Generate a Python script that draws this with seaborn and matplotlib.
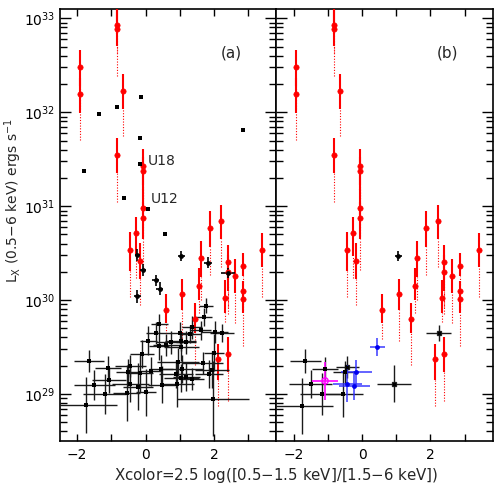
import numpy as np
import pandas as pd
import matplotlib
matplotlib.use("Agg")
import matplotlib.pyplot as plt
import seaborn as sns
from matplotlib.ticker import LogLocator, LogFormatterMathtext, FixedLocator, NullFormatter

# ---------------- data (log10 Lx) ----------------
# red sources (shown in both panels): x, logL, upper err, lower solid err, dotted lower extent (dex)
red_x = [-1.92, -1.92, -0.83, -0.83, -0.83, -0.65, -0.07, -0.07, -0.07, -0.07, -0.27, -0.45, -0.17,
         0.59, 1.08, 1.44, 1.55, 1.61, 1.88, 2.22, 2.13, 2.40, 2.41, 2.33, 2.40, 2.62, 2.86, 2.86, 2.86, 3.42]
red_y = [32.48, 32.19, 32.93, 32.89, 31.55, 32.23, 31.43, 31.37, 30.98, 30.87, 30.71, 30.53, 30.42,
         29.90, 30.06, 29.80, 30.15, 30.45, 30.77, 30.84, 29.37, 30.41, 30.30, 30.02, 29.43, 30.26, 30.36, 30.10, 30.01, 30.53]
red_up = [0.18, 0.17, 0.30, 0.30, 0.18, 0.18, 0.18, 0.15, 0.20, 0.18, 0.18, 0.20, 0.19,
          0.17, 0.16, 0.17, 0.19, 0.18, 0.18, 0.17, 0.16, 0.18, 0.18, 0.19, 0.18, 0.18, 0.14, 0.10, 0.10, 0.18]
red_lo = [0.20, 0.20, 0.10, 0.18, 0.20, 0.19, 0.20, 0.20, 0.12, 0.22, 0.24, 0.22, 0.20,
          0.14, 0.17, 0.15, 0.15, 0.20, 0.20, 0.19, 0.22, 0.20, 0.20, 0.16, 0.20, 0.18, 0.10, 0.10, 0.15, 0.18]
red_dot = [0.45, 0.49, 0.30, 0.50, 0.51, 0.48, 0.35, 0.35, 0.30, 0.55, 0.47, 0.50, 0.47,
           0.31, 0.50, 0.49, 0.29, 0.45, 0.50, 0.49, 0.50, 0.48, 0.45, 0.25, 0.50, 0.50, 0.20, 0.20, 0.50, 0.50]

# black squares without error bars (panel a)
sq_x = [-1.80, -1.36, -0.82, -0.14, -0.15, -0.15, -0.63, 0.07, 2.85, 0.57]
sq_y = [31.37, 31.98, 32.06, 32.16, 31.73, 31.45, 31.09, 30.97, 31.81, 30.70]

# bright black sources with small error bars (panel a)
pl_x = [-0.24, -0.07, 0.30, 0.42, 1.05, 1.83, -0.24, 2.41]
pl_y = [30.48, 30.32, 30.21, 30.12, 30.47, 30.40, 30.04, 30.29]
pl_xe = [0.08, 0.08, 0.10, 0.10, 0.10, 0.12, 0.10, 0.20]
pl_ye = [0.06, 0.06, 0.06, 0.07, 0.05, 0.06, 0.07, 0.05]

# faint black sources with error bars (panel a)
bk_x = [-1.65, -1.09, -1.06, -1.50, -1.19, -1.74, -0.55, -0.44, -0.44, -0.50, -0.22, -0.17, -0.10, 0.01,
        0.17, 0.08, 0.31, 0.40, 0.39, 0.45, 0.47,
        1.77, 1.70, 1.61, 1.36, 2.02, 2.24, 1.00, 1.31, 1.03, 1.19, 0.76, 1.05, 0.61, 2.00, 0.95,
        1.68, 1.94, 1.08, 0.90, 1.05, 1.19, 1.35, 1.86, 0.92, 1.97]
bk_y = [29.35, 29.28, 29.15, 29.10, 29.00, 28.88, 29.01, 29.11, 29.30, 29.23, 29.08, 29.22, 29.43, 29.02,
        29.24, 29.57, 29.65, 29.75, 29.51, 29.27, 29.10,
        29.94, 29.82, 29.68, 29.71, 29.66, 29.65, 29.65, 29.64, 29.56, 29.55, 29.55, 29.50, 29.52, 29.44, 29.34,
        29.33, 29.26, 29.27, 29.21, 29.17, 29.18, 29.16, 29.21, 29.11, 28.95]
bk_xe = [0.44, 0.38, 0.50, 0.60, 0.63, 0.90, 0.40, 0.55, 0.45, 0.35, 0.45, 0.40, 0.35, 0.30,
         0.30, 0.25, 0.30, 0.25, 0.30, 0.35, 0.40,
         0.20, 0.25, 0.30, 0.30, 0.40, 0.35, 0.40, 0.30, 0.45, 0.30, 0.45, 0.50, 0.40, 0.30, 0.60,
         0.60, 0.50, 0.60, 0.50, 0.50, 0.40, 0.35, 0.40, 0.50, 1.05]
bk_ye = [0.12, 0.13, 0.14, 0.16, 0.21, 0.30, 0.30, 0.20, 0.12, 0.14, 0.25, 0.20, 0.15, 0.25,
         0.15, 0.15, 0.12, 0.10, 0.15, 0.15, 0.20,
         0.08, 0.10, 0.10, 0.12, 0.12, 0.10, 0.12, 0.10, 0.10, 0.12, 0.12, 0.15, 0.12, 0.20, 0.15,
         0.12, 0.20, 0.15, 0.15, 0.15, 0.15, 0.12, 0.15, 0.25, 0.40]

# panel b black sources
bb_x = [-1.66, -1.08, -1.50, -1.18, -1.74, -0.49, -0.55]
bb_y = [29.35, 29.27, 29.11, 29.00, 28.87, 29.23, 29.00]
bb_xe = [0.45, 0.39, 0.62, 0.64, 0.88, 0.36, 0.58]
bb_ye = [0.13, 0.12, 0.15, 0.22, 0.30, 0.12, 0.24]
# panel b cross-marked sources
bx_x = [-0.43, 0.93, 2.24]
bx_y = [29.29, 29.11, 29.65]
bx_xe = [0.33, 0.49, 0.36]
bx_ye = [0.12, 0.20, 0.09]
# panel b bright black source
bp_x = [1.06]
bp_y = [30.47]
bp_xe = [0.10]
bp_ye = [0.05]
# panel b blue sources
bl_x = [0.45, -0.17, -0.43, -0.22]
bl_y = [29.50, 29.23, 29.11, 29.09]
bl_xe = [0.23, 0.45, 0.43, 0.45]
bl_ye = [0.10, 0.13, 0.20, 0.15]
# panel b magenta source
mg_x = [-1.08]
mg_y = [29.14]
mg_xe = [0.38]
mg_ye = [0.20]

# ---------------- styling ----------------
sns.set_style("ticks")
plt.rcParams['font.family'] = ['DejaVu Sans']
plt.rcParams['mathtext.default'] = 'regular'

fig = plt.figure(figsize=(5.0, 4.86), dpi=100)
axes = fig.subplots(1, 2, sharey=True)
fig.subplots_adjust(left=0.12, right=0.986, bottom=0.0926, top=0.9815, wspace=0)


def lin(v):
    return 10.0 ** np.asarray(v, dtype=float)


def yerr_arr(ly, e):
    ly = np.asarray(ly, float); e = np.asarray(e, float)
    y = 10 ** ly
    return np.vstack([y - 10 ** (ly - e), 10 ** (ly + e) - y])


def draw_red(ax):
    rx = np.asarray(red_x); ry = np.asarray(red_y)
    ax.vlines(rx, lin(ry - np.asarray(red_dot)), lin(ry - np.asarray(red_lo)),
              colors='red', linestyles=(0, (1, 1.5)), linewidth=0.8, zorder=2)
    ax.vlines(rx, lin(ry - np.asarray(red_lo)), lin(ry + np.asarray(red_up)),
              colors='red', linewidth=1.5, zorder=3)
    df = pd.DataFrame({'x': rx, 'L': lin(ry)})
    sns.scatterplot(data=df, x='x', y='L', ax=ax, color='red', marker='o', s=15,
                    edgecolor='red', linewidth=0.4, zorder=4, legend=False)


def draw_err(ax, x, ly, xe, ye, color, lw=1.0, alpha=1.0):
    ax.errorbar(x, lin(ly), xerr=xe, yerr=yerr_arr(ly, ye), fmt='none',
                ecolor=color, elinewidth=lw, capsize=0, alpha=alpha, zorder=3)


axA, axB = axes

# ---- panel a ----
draw_red(axA)
draw_err(axA, bk_x, bk_y, bk_xe, bk_ye, '#1a1a1a', lw=1.0)
sns.scatterplot(x=np.asarray(bk_x), y=lin(bk_y), ax=axA, color='black', marker='s', s=9,
                linewidth=0, zorder=5, legend=False)
draw_err(axA, pl_x, pl_y, pl_xe, pl_ye, 'black', lw=1.2)
sns.scatterplot(x=np.asarray(pl_x), y=lin(pl_y), ax=axA, color='black', marker='o', s=12,
                linewidth=0, zorder=5, legend=False)
sns.scatterplot(x=np.asarray(sq_x), y=lin(sq_y), ax=axA, color='black', marker='s', s=9,
                linewidth=0, zorder=5, legend=False)
axA.text(0.06, lin(31.48), 'U18', fontsize=10, ha='left', va='center')
axA.text(0.15, lin(31.08), 'U12', fontsize=10, ha='left', va='center')
axA.text(0.79, 0.899, '(a)', transform=axA.transAxes, fontsize=11, ha='center', va='center')

# ---- panel b ----
draw_red(axB)
draw_err(axB, bb_x, bb_y, bb_xe, bb_ye, '#1a1a1a', lw=1.0)
sns.scatterplot(x=np.asarray(bb_x), y=lin(bb_y), ax=axB, color='black', marker='s', s=9,
                linewidth=0, zorder=5, legend=False)
draw_err(axB, bx_x, bx_y, bx_xe, bx_ye, '#1a1a1a', lw=1.0)
sns.scatterplot(x=np.asarray(bx_x), y=lin(bx_y), ax=axB, color='black', marker='X', s=18,
                linewidth=0, zorder=5, legend=False)
draw_err(axB, bp_x, bp_y, bp_xe, bp_ye, 'black', lw=1.2)
sns.scatterplot(x=np.asarray(bp_x), y=lin(bp_y), ax=axB, color='black', marker='o', s=12,
                linewidth=0, zorder=5, legend=False)
draw_err(axB, bl_x, bl_y, bl_xe, bl_ye, '#3030ff', lw=1.4, alpha=0.75)
sns.scatterplot(x=np.asarray(bl_x), y=lin(bl_y), ax=axB, color='#0000ee', marker='o', s=12,
                linewidth=0, zorder=5, legend=False)
draw_err(axB, mg_x, mg_y, mg_xe, mg_ye, '#ff00ff', lw=1.4, alpha=0.85)
sns.scatterplot(x=np.asarray(mg_x), y=lin(mg_y), ax=axB, facecolor='none', edgecolor='#ff00ff',
                marker='o', s=20, linewidth=1.0, zorder=5, legend=False)
axB.text(0.79, 0.899, '(b)', transform=axB.transAxes, fontsize=11, ha='center', va='center')

# ---- axes formatting ----
for ax in axes:
    ax.set_yscale('log')
    ax.set_xlim(-2.5, 3.83)
    ax.set_ylim(10 ** 28.5, 10 ** 33.1)
    ax.xaxis.set_major_locator(FixedLocator([-2, 0, 2]))
    ax.xaxis.set_minor_locator(FixedLocator([-1, 1, 3]))
    ax.yaxis.set_major_locator(LogLocator(base=10, numticks=20))
    ax.yaxis.set_minor_locator(LogLocator(base=10, subs=np.arange(2, 10), numticks=100))
    ax.yaxis.set_minor_formatter(NullFormatter())
    ax.tick_params(which='both', direction='in', top=True, right=True, colors='black',
                   labelsize=10, width=1.0)
    ax.tick_params(axis='x', which='both', length=5, pad=5)
    ax.tick_params(axis='y', which='major', length=8)
    ax.tick_params(axis='y', which='minor', length=5)
    for s in ax.spines.values():
        s.set_linewidth(1.2)
        s.set_color('black')
    ax.set_xlabel('')
    ax.set_ylabel('')

axA.yaxis.set_major_formatter(LogFormatterMathtext())
axB.tick_params(axis='y', labelleft=False)
axA.set_ylabel(r'L$_{\rm X}$ (0.5$-$6 keV) ergs s$^{-1}$', fontsize=10)
axA.yaxis.set_label_coords(-0.165, 0.556)
fig.text(0.553, 0.021, r'Xcolor=2.5 log([0.5$-$1.5 keV]/[1.5$-$6 keV])', ha='center', va='center',
         fontsize=10.8)

fig.savefig('out.png', dpi=100)
